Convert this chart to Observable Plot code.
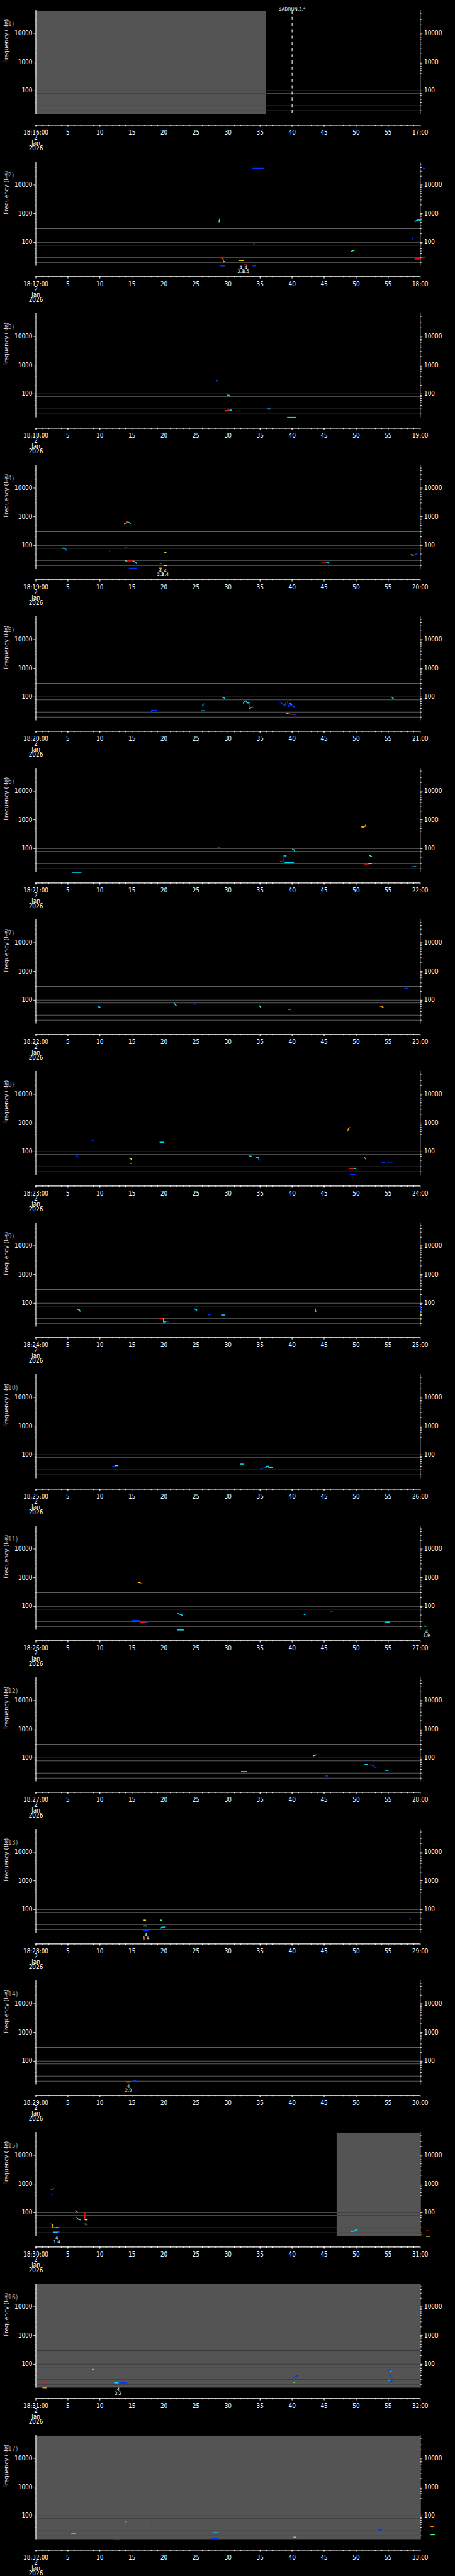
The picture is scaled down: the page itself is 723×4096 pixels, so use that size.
<!DOCTYPE html>
<html><head><meta charset="utf-8">
<script src="https://cdn.jsdelivr.net/npm/d3@7"></script>
<script src="https://cdn.jsdelivr.net/npm/@observablehq/plot@0.6"></script>
<style>
html,body{margin:0;padding:0;background:#000;}
#wrap{position:relative;width:723px;height:4096px;overflow:hidden;background:#000;}
.panel{position:absolute;left:0;width:723px;}
</style></head><body><div id="wrap"></div>
<script>
const S = 723 / 1024;
const FONT = "'DejaVu Sans Condensed','Liberation Sans Narrow','DejaVu Sans',sans-serif";

// ---- data ----
const panelIds = d3.range(1, 18);
const startHour = 18, startMinute = 16;
const refLines = [300, 100, 80, 30, 20];
const xMajor = [0, 5, 10, 15, 20, 25, 30, 35, 40, 45, 50, 55, 60];
const xMinor = d3.range(0, 61, 1);
const yMajor = [100, 1000, 10000];
const yMinor = [20, 30, 40, 50, 60, 70, 80, 90, 200, 300, 400, 500, 600, 700, 800, 900,
  2000, 3000, 4000, 5000, 6000, 7000, 8000, 9000, 20000, 30000, 40000, 50000];
const grayBoxes = [[1, 0, 36], [15, 47, 60], [16, 0, 60], [17, 0, 60]];
const markers = [[1, 40, "$ADRUN,3,*"]];
const quakes = [[2, 32.0, "4", "2.3"], [2, 32.8, "4", "2.5"], [4, 19.45, "4", "2.2"], [4, 20.2, "4", "2.4"],
  [11, 61.0, "4", "2.9"], [13, 17.2, "4", "1.9"], [14, 14.45, "4", "2.9"], [15, 3.25, "4", "1.4"], [16, 12.85, "4", "2.2"]];
const palette = {B: "#0032ff", C: "#00d8ff", G: "#3cff7a", Y: "#ffee00", O: "#ff8c00", R: "#ee1010"};
// [panel, colour, t0, f0, t1, f1, ...]  (t in seconds, f in Hz)
const traces = [
  [2,"B",33.9,37900,35.5,37900],[2,"B",60.5,37900,60.7,37900],
  [2,"G",28.6,522,28.65,580],[2,"C",28.65,580,28.7,647],
  [2,"C",59.2,530,59.6,600,59.9,590,60.2,620],
  [2,"B",58.8,133,58.9,147],[2,"B",34.0,86,34.1,90],[2,"G",49.3,49,49.7,54],
  [2,"R",28.8,28,29.2,27.6],[2,"O",29.2,27.6,29.3,21.5,29.5,21.5],
  [2,"Y",31.7,23.5,32.4,23.5],[2,"R",32.6,17.6,32.9,17.6],
  [2,"B",28.8,15.2,29.5,15.2],[2,"B",33.9,15.2,34.2,15.2],
  [2,"R",59.2,26,59.9,26.5,60.4,29,60.8,31],
  [3,"B",28.2,280,28.4,292],[3,"C",29.95,90,30.15,90,30.3,83],
  [3,"Y",29.6,25.4,29.75,25.8],[3,"R",29.75,25.8,29.9,27.2,30.4,27.2],[3,"C",30.4,27.2,30.5,27.2],
  [3,"C",36.2,29.8,36.6,29.8],[3,"C",39.3,15.2,40.5,15.2],
  [4,"C",13.85,580,14.1,600,14.3,650,14.5,640,14.75,590],[4,"Y",14.1,610,14.3,660],[4,"R",14.25,655,14.4,655],
  [4,"C",4.15,80.5,4.5,80,4.7,71],[4,"B",4.75,71,4.8,68],[4,"B",11.5,64,11.55,60],[4,"B",13.9,83,14.2,83],
  [4,"Y",20.15,56,20.3,56],[4,"G",14.0,29,14.3,29],[4,"R",14.3,29,15.2,29],[4,"C",15.2,29,15.7,24.8],
  [4,"B",14.6,16.1,15.7,16.1],[4,"R",19.4,23.7,19.6,23.7],[4,"O",19.3,16.3,19.6,16.3],[4,"Y",20.1,20,20.4,20],
  [4,"R",44.6,26.3,45.4,26.3],[4,"C",45.4,26.3,45.6,25.5],
  [4,"Y",58.6,47,58.9,46],[4,"B",58.9,46,59.1,46,59.2,50,59.5,50],
  [5,"B",17.9,28.5,18.0,28.5,18.05,34.4,18.8,34.4],[5,"C",26.05,49,26.1,57,26.2,57],[5,"C",25.9,33,26.35,33],
  [5,"C",29.1,99,29.3,95,29.5,90],
  [5,"C",32.4,62,32.6,73,32.8,73,33.0,62,33.3,62],[5,"B",33.3,62,33.3,40.7],[5,"Y",33.4,40.7,33.7,44],[5,"B",33.7,44,33.9,44],
  [5,"B",38.1,66,38.5,57,38.9,51,39.05,67,39.3,67,39.4,47.6,39.6,47.6,39.8,57,40.0,51,40.2,44.7,40.4,47.6],
  [5,"C",39.7,59,39.9,56],
  [5,"Y",39.1,26,39.4,26],[5,"R",39.4,25.8,40.3,24.8],[5,"B",40.3,24.8,40.5,24.8],[5,"C",55.6,97,55.8,88],
  [6,"C",5.7,15,7.05,15],[6,"B",28.4,114,28.7,108],[6,"C",40.1,95,40.3,90,40.4,82],
  [6,"B",38.2,35.4,38.6,35.4,38.6,56,38.9,56],[6,"C",38.9,56,39.05,55],[6,"C",38.9,32.8,40.2,32.8],
  [6,"Y",50.9,570,51.2,560],[6,"O",51.2,560,51.4,600,51.5,660],[6,"G",52.1,58,52.4,53],
  [6,"R",51.3,29,52.0,29],[6,"Y",52.0,30,52.4,30.5],[6,"C",58.7,23,59.3,23.5],
  [7,"C",9.7,63,9.85,58,10.0,57],[7,"C",21.6,78,21.75,70,21.9,65],[7,"B",24.8,76,24.85,72],
  [7,"G",34.9,63,35.1,57],[7,"C",39.5,48,39.7,48],[7,"O",53.7,62,54.0,62,54.1,57,54.2,57],[7,"B",57.6,257,58.1,257],
  [8,"B",8.8,245,9.0,255],[8,"C",19.4,214,19.9,214],[8,"B",6.3,80,6.4,70,6.6,66],
  [8,"R",14.6,60,14.8,58],[8,"Y",14.8,58,14.9,55],[8,"G",14.7,39.5,14.9,39.5],[8,"C",33.3,71,33.6,70],
  [8,"Y",34.5,63,34.7,62],[8,"C",34.7,62,34.8,56],[8,"B",34.8,56,34.9,51],
  [8,"O",48.7,549,48.8,660,49.0,683],[8,"R",48.9,26.4,49.8,26.4],[8,"C",49.8,26.4,49.95,25.8],
  [8,"B",49.1,16.1,49.8,16.1],[8,"C",51.3,63,51.5,56],[8,"B",54.1,42.7,54.35,42.7],[8,"B",54.9,44,55.7,44],
  [9,"C",6.5,61,6.8,59,6.9,53],[9,"R",19.2,29.4,19.9,29.4],[9,"O",19.9,29.4,19.95,21.9],
  [9,"C",20.0,22.2,20.3,23.3],[9,"B",20.3,23.3,20.7,23.3],[9,"C",24.8,63,25.1,58],[9,"B",26.9,40,27.2,40],
  [9,"C",29.0,38.9,29.4,38.9],[9,"C",43.6,63,43.7,52],[9,"B",60.0,80,60.1,59],[9,"Y",60.0,39,60.2,39],[9,"C",60.0,27.2,60.1,27.2],
  [10,"B",12.0,39.5,12.35,39.5],[10,"G",12.35,42,12.7,42],[10,"C",32.0,47.5,32.4,47.5],
  [10,"B",35.1,32.8,35.6,34.9,35.9,36],[10,"C",35.9,36,36.0,40.1,36.3,40.1,36.4,35],[10,"G",36.4,35,36.95,36],
  [11,"Y",16.0,692,16.3,680],[11,"R",16.3,660,16.5,620],[11,"B",16.5,615,16.65,615],
  [11,"B",15.1,32.8,16.0,32.4,16.3,31],[11,"R",16.4,28.5,17.2,28.1],[11,"B",17.2,28.1,17.4,28],
  [11,"C",22.2,56,22.5,53,22.9,49],[11,"C",22.1,15.1,23.0,15.1],[11,"C",41.9,52,42.0,52],[11,"B",46.0,68,46.3,68],
  [11,"C",54.5,27.6,54.8,28.4,55.2,28.4],[11,"G",60.7,20.6,60.9,20.6],
  [12,"G",43.3,118,43.5,124,43.7,128],[12,"C",32.1,33.8,32.9,33.8],[12,"B",45.2,23.7,45.5,23.7],
  [12,"C",51.4,59,51.8,59],[12,"B",52.1,57,52.5,56.5,52.8,51,53.1,46],[12,"C",54.5,37.2,55.0,37.2],
  [13,"Y",16.9,42.6,17.1,42.6],[13,"G",19.5,42.6,19.6,42.6],[13,"G",16.9,26.8,17.3,26.8],[13,"B",16.8,18.8,17.5,18.8],
  [13,"C",19.5,22.9,19.7,24.5,20.1,24.8],[13,"B",58.3,47.5,58.5,46],
  [14,"O",14.2,18.8,14.7,18.8],[14,"B",15.3,20.6,15.6,20.6],
  [15,"R",2.4,630,2.6,650],[15,"B",2.6,660,2.8,700],[15,"B",2.45,442,2.6,442],
  [15,"R",6.2,119,6.4,110],[15,"G",6.4,108,6.5,103],[15,"C",6.4,69,6.6,59,6.9,57],
  [15,"R",7.65,95,7.65,60],[15,"Y",7.7,57,8.0,57],[15,"Y",7.7,40,7.95,39.5],[15,"B",8.0,39.5,8.0,34.4],
  [15,"B",2.35,40.7,2.6,38.3],[15,"Y",2.65,38.3,2.65,30.8],[15,"R",2.7,30.8,3.2,30.5],[15,"C",3.2,30.5,3.5,30.2],
  [15,"C",2.8,21,3.5,21],[15,"B",3.5,21,3.7,21.5],[15,"C",49.2,22.3,49.6,22.5,49.9,24.6,50.1,24.8],
  [15,"O",60.1,17.1,60.3,17.1],[15,"R",61.0,23.3,61.2,23.3],[15,"Y",61.0,15.1,61.4,15.1],
  [16,"G",8.85,66,9.0,66],[16,"R",1.15,23.3,1.45,23.3],[16,"O",1.1,15.2,1.6,15.2],
  [16,"C",12.3,22.6,13.0,22.6],[16,"B",13.0,22.5,14.2,22.5],[16,"B",40.3,35.4,40.5,38,40.9,39.5],
  [16,"G",40.3,23.3,40.4,23.3],[16,"B",55.1,62,55.3,60],[16,"C",55.3,58,55.45,56.4],[16,"B",55.3,39.5,55.35,39.5],
  [16,"C",55.1,28,55.4,27],[16,"B",55.4,26,55.6,25.6],
  [17,"B",5.3,25.8,5.6,24.5],[17,"C",5.6,24.3,6.1,24.3],[17,"B",12.2,15.1,13.0,15.1],[17,"C",14.0,63,14.1,63],
  [17,"B",18.05,57,18.1,55],[17,"C",27.7,25.8,28.3,25.8],[17,"B",27.5,16.2,28.4,16.2],[17,"G",40.3,18,40.6,18],
  [17,"B",53.5,31.9,53.9,31.9],[17,"O",61.7,42.5,62.0,42.5],[17,"G",61.7,22,62.3,22.2]
];

// ---- layout (reference px, scaled by S) ----
const PITCH = 341.3, TOP = 24, FRAME_H = 233, LEFT = 80, RIGHT = 945, REFW = 1024;

const rows = traces.flatMap((tr, i) => {
  const [p, c, ...v] = tr;
  const out = [];
  for (let j = 0; j < v.length; j += 2) out.push({p, id: i, c: palette[c], t: v[j], f: v[j + 1]});
  return out;
});

const pad = n => String(n).padStart(2, "0");
function xLabel(p, d) {
  const m = startMinute + p - 1;
  if (d === 0) return `${startHour}:${pad(m)}:00\n2\nJan\n2026`;
  if (d === 60) return `${pad(m + 1)}:00`;
  return String(d);
}

const wrap = document.getElementById("wrap");
for (const p of panelIds) {
  const boxes = grayBoxes.filter(b => b[0] === p);
  const boxLines = boxes.flatMap(b => refLines.map(f => ({f, x1: b[1], x2: b[2]})));
  const mk = markers.filter(m => m[0] === p);
  const qk = quakes.filter(q => q[0] === p);
  const pr = rows.filter(r => r.p === p);
  const chart = Plot.plot({
    width: 723,
    height: PITCH * S,
    marginTop: TOP * S,
    marginBottom: (PITCH - TOP - FRAME_H) * S,
    marginLeft: LEFT * S,
    marginRight: (REFW - RIGHT) * S,
    style: {background: "transparent", color: "white", fontFamily: FONT, overflow: "visible"},
    x: {domain: [0, 60], axis: null},
    y: {type: "log", domain: [15, 60000], axis: null},
    color: {type: "identity"},
    marks: [
      Plot.rect(boxes, {x1: d => d[1], x2: d => d[2], fill: "#545454"}),
      Plot.ruleY(refLines, {stroke: "#5e5e5e", strokeWidth: 1.1}),
      Plot.ruleY(boxLines, {y: "f", x1: "x1", x2: "x2", stroke: "#383838", strokeWidth: 1.1}),
      Plot.ruleX([0, 60], {stroke: "white", strokeWidth: 1.1, insetTop: -1.5 * S}),
      Plot.axisY(yMajor, {anchor: "left", tickSize: 4.5 * S, tickPadding: 3.5 * S, stroke: "white", fill: "white",
        fontSize: 14 * S, fontFamily: FONT, tickFormat: d => String(d), label: null}),
      Plot.axisY(yMinor, {anchor: "left", tickSize: 2.2 * S, tickFormat: () => "", stroke: "white", label: null}),
      Plot.axisY(yMajor, {anchor: "right", tickSize: 4.5 * S, tickPadding: 4.5 * S, stroke: "white", fill: "white",
        fontSize: 14 * S, fontFamily: FONT, tickFormat: d => String(d), label: null}),
      Plot.axisY(yMinor, {anchor: "right", tickSize: 2.2 * S, tickFormat: () => "", stroke: "white", label: null}),
      Plot.ruleY([15], {x1: 0, x2: 60, dy: 24 * S, stroke: "white", strokeWidth: 1.1}),
      Plot.axisX(xMajor, {anchor: "bottom", dy: 24 * S, tickSize: 4.5 * S, tickFormat: () => "", stroke: "white", label: null}),
      Plot.axisX(xMinor, {anchor: "bottom", dy: 24 * S, tickSize: 2.5 * S, tickFormat: () => "", stroke: "white", label: null}),
      Plot.text(xMajor, {x: d => d, frameAnchor: "bottom", dy: 36.5 * S, lineAnchor: "top", lineHeight: 0.86,
        text: d => xLabel(p, d), fill: "white", fontSize: 14 * S, fontFamily: FONT}),
      Plot.text(["Frequency (Hz)"], {frameAnchor: "left", dx: -66 * S, rotate: -90, text: d => d,
        fill: "#e4e4e4", fontSize: 13 * S, fontFamily: "'DejaVu Sans',sans-serif"}),
      Plot.text([`(${p})`], {frameAnchor: "top-left", dx: -68 * S, dy: 23 * S, textAnchor: "start", text: d => d,
        fill: "#9a9a9a", fontSize: 15 * S, fontFamily: FONT}),
      Plot.ruleX(mk, {x: d => d[1], stroke: "white", strokeWidth: 1.1, strokeDasharray: `${7 * S},${7 * S}`}),
      Plot.text(mk, {x: d => d[1], frameAnchor: "top", dy: -8.5 * S, text: d => d[2], fill: "white",
        fontSize: 11 * S, fontFamily: FONT}),
      Plot.line(pr, {x: "t", y: "f", z: "id", stroke: "c", strokeWidth: 1.6, strokeLinecap: "square"}),
      Plot.text(qk, {x: d => d[1], frameAnchor: "bottom", dy: 7 * S, text: d => d[2], fill: "white",
        fontSize: 10.5 * S, fontFamily: FONT}),
      Plot.text(qk, {x: d => d[1], frameAnchor: "bottom", dy: 16 * S, text: d => d[3], fill: "white",
        fontSize: 10.5 * S, fontFamily: FONT})
    ]
  });
  const div = document.createElement("div");
  div.className = "panel";
  div.style.top = ((p - 1) * PITCH * S) + "px";
  div.appendChild(chart);
  wrap.appendChild(div);
}
</script>
</body></html>
